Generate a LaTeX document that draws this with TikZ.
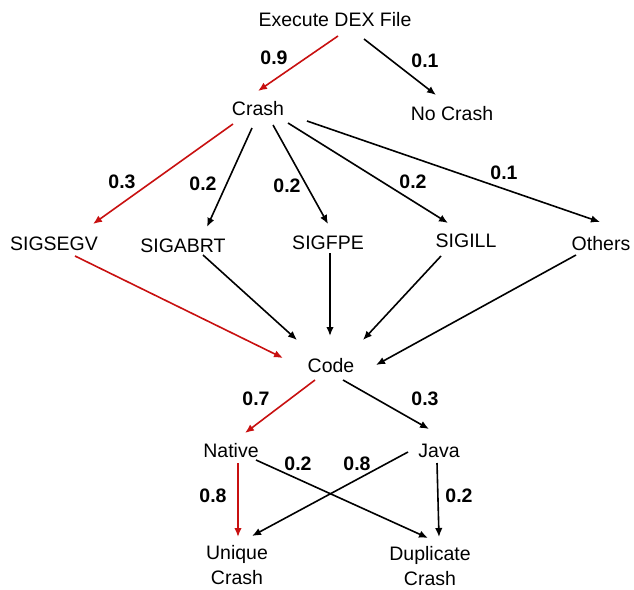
\documentclass[tikz,border=0pt]{standalone}
\usepackage{fontspec}
\setmainfont{Liberation Sans}
\usetikzlibrary{arrows.meta,calc}
\definecolor{redarr}{RGB}{200,16,16}
\tikzset{
  lbl/.style={inner sep=0pt,text height=14pt,text depth=0pt,font=\fontsize{19.5}{25}\selectfont},
  num/.style={inner sep=0pt,text height=14pt,text depth=0pt,font=\fontsize{19.5}{25}\selectfont\bfseries},
  two/.style={inner sep=0pt,anchor=north,align=center,font=\fontsize{19.5}{25}\selectfont},
  arr/.style={line width=1.6pt,-{Latex[length=9pt,width=7.5pt]}},
  rarr/.style={arr,draw=redarr,fill=redarr}
}
\begin{document}
\begin{tikzpicture}[x=1pt,y=-1pt]
\useasboundingbox (0,0) rectangle (634,589);
% nodes
\node[lbl] (exec) at (335,20) {Execute DEX File};
\node[lbl] (crash) at (258,108) {Crash};
\node[lbl] (nocrash) at (452,113) {No Crash};
\node[lbl] (sigsegv) at (54,243) {SIGSEGV};
\node[lbl] (sigabrt) at (183,245) {SIGABRT};
\node[lbl] (sigfpe) at (328,242) {SIGFPE};
\node[lbl] (sigill) at (466,240) {SIGILL};
\node[lbl] (others) at (601,243) {Others};
\node[lbl] (code) at (331,365) {Code};
\node[lbl] (native) at (231,450) {Native};
\node[lbl] (java) at (439,450) {Java};
\node[two] (unique) at (237,545) {Unique\\Crash};
\node[two] (dup) at (430,546) {Duplicate\\Crash};
% labels
\node[num] (l1) at (274,57) {0.9};
\node[num] (l2) at (425,60) {0.1};
\node[num] (l3) at (122,181) {0.3};
\node[num] (l4) at (203,183) {0.2};
\node[num] (l5) at (287,185) {0.2};
\node[num] (l6) at (413,181) {0.2};
\node[num] (l7) at (504,172) {0.1};
\node[num] (l8) at (256,398) {0.7};
\node[num] (l9) at (425,398) {0.3};
\node[num] (l10) at (298,463) {0.2};
\node[num] (l11) at (357,463) {0.8};
\node[num] (l12) at (213,495) {0.8};
\node[num] (l13) at (459,495) {0.2};
% connectors
\draw[rarr] ($(exec)+(3,16)$) -- ($(crash)+(0,-17)$);
\draw[arr] ($(exec)+(29,19)$) -- ($(nocrash)+(-16,-18)$);
\draw[rarr] ($(crash)+(-25,16)$) -- ($(sigsegv)+(39,-19)$);
\draw[arr] ($(crash)+(-6,20)$) -- ($(sigabrt)+(24,-18)$);
\draw[arr] ($(crash)+(15,17)$) -- ($(sigfpe)+(0,-18)$);
\draw[arr] ($(crash)+(30,15)$) -- ($(sigill)+(-18,-17)$);
\draw[arr] ($(crash)+(49,13)$) -- ($(others)+(-1,-21)$);
\draw[rarr] ($(sigsegv)+(21,13)$) -- ($(code)+(-48,-7)$);
\draw[arr] ($(sigabrt)+(20,10)$) -- ($(code)+(-34,-25)$);
\draw[arr] ($(sigfpe)+(2,11)$) -- ($(code)+(-1,-29)$);
\draw[arr] ($(sigill)+(-25,16)$) -- ($(code)+(32,-25)$);
\draw[arr] ($(others)+(-25,12)$) -- ($(code)+(45,0)$);
\draw[rarr] ($(code)+(-16,15)$) -- ($(native)+(14,-17)$);
\draw[arr] ($(code)+(12,15)$) -- ($(java)+(-10,-21)$);
\draw[rarr] ($(native)+(7,13)$) -- ($(unique.north)+(1,-8)$);
\draw[arr] ($(native)+(25,10)$) -- ($(dup.north)+(-2,-8)$);
\draw[arr] ($(java)+(-31,2)$) -- ($(unique.north)+(15,-9)$);
\draw[arr] ($(java)+(-2,13)$) -- ($(dup.north)+(9,-9)$);
\end{tikzpicture}
\end{document}
